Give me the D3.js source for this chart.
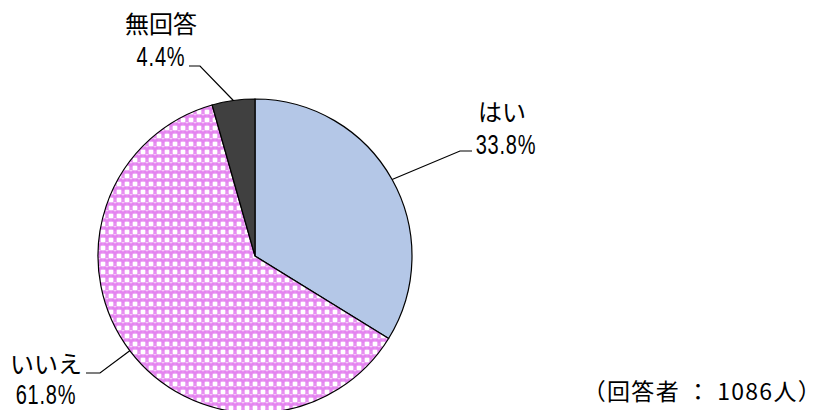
<!DOCTYPE html>
<html>
<head>
<meta charset="utf-8">
<script src="https://cdn.jsdelivr.net/npm/d3@7"></script>
<style>
  body { margin: 0; background: #fff; }
  text { font-family: "Noto Sans CJK JP", "Noto Sans", sans-serif; fill: #000; }
  text.num { font-family: "Liberation Sans", Arial, sans-serif; }
</style>
</head>
<body>
<div id="chart"></div>
<script>
var categories = ["はい", "いいえ", "無回答"];
var values = [33.8, 61.8, 4.4];
var respondents = 1086;

var width = 835, height = 410,
  cx = 255, cy = 256, radius = 157;

// label layout: elbow point, end of horizontal, text centre / baselines
var labelPos = {
  "はい":   { elbow: [460, 151], end: [472, 151], tx: 502, ty: 121, vx: 506, vy: 154 },
  "いいえ": { elbow: [100, 373], end: [86, 373],  tx: 46,  ty: 373, vx: 46,  vy: 404 },
  "無回答": { elbow: [200, 66],  end: [189, 66],  tx: 161, ty: 33,  vx: 161, vy: 66 }
};

var svg = d3.select("#chart").append("svg")
  .attr("width", width)
  .attr("height", height);

// ball pattern: pink balls, white squares where four balls meet
var defs = svg.append("defs");
var pat = defs.append("pattern")
  .attr("id", "balls")
  .attr("patternUnits", "userSpaceOnUse")
  .attr("width", 8).attr("height", 8);
pat.append("rect").attr("width", 8).attr("height", 8).attr("fill", "#e892f2");
pat.append("circle").attr("cx", 4).attr("cy", 4).attr("r", 3.3).attr("fill", "#e484f0");
[[0, 0], [5.7, 0], [0, 5.7], [5.7, 5.7]].forEach(function(p) {
  pat.append("rect").attr("x", p[0]).attr("y", p[1]).attr("width", 2.3).attr("height", 2.3).attr("fill", "#fff");
});
pat.append("ellipse").attr("cx", 4).attr("cy", 2.6).attr("rx", 1.6).attr("ry", 0.8).attr("fill", "#f6cdf9");

var fills = { "はい": "#b4c7e7", "いいえ": "url(#balls)", "無回答": "#404040" };

var pie = d3.pie().sort(null).value(function(d) { return d.value; });
var data = categories.map(function(c, i) { return { name: c, value: values[i] }; });
var arcs = pie(data);

var arc = d3.arc().innerRadius(0).outerRadius(radius);

var g = svg.append("g").attr("transform", "translate(" + cx + "," + cy + ")");

g.selectAll("path.slice")
  .data(arcs)
  .enter().append("path")
  .attr("class", "slice")
  .attr("d", arc)
  .attr("fill", function(d) { return fills[d.data.name]; })
  .attr("stroke", "#000")
  .attr("stroke-width", 1.2);

// leader lines + labels
arcs.forEach(function(d) {
  var a = (d.startAngle + d.endAngle) / 2;
  var px = cx + radius * Math.sin(a), py = cy - radius * Math.cos(a);
  var lp = labelPos[d.data.name];
  svg.append("polyline")
    .attr("points", [[px, py], lp.elbow, lp.end].map(function(p) { return p.join(","); }).join(" "))
    .attr("fill", "none")
    .attr("stroke", "#000")
    .attr("stroke-width", 1.2);

  svg.append("text")
    .attr("x", lp.tx).attr("y", lp.ty)
    .attr("text-anchor", "middle")
    .attr("font-size", 24)
    .text(d.data.name);
  // condensed tall digits
  svg.append("g")
    .attr("transform", "translate(" + lp.vx + "," + lp.vy + ") scale(0.8,1.12)")
    .append("text")
    .attr("class", "num")
    .attr("text-anchor", "middle")
    .attr("font-size", 25)
    .attr("letter-spacing", 1)
    .text(d3.format(".1f")(d.data.value) + "%");
});

svg.append("text")
  .attr("x", 822).attr("y", 400)
  .attr("text-anchor", "end")
  .attr("font-size", 23)
  .attr("letter-spacing", 1.3)
  .text("（回答者 ： " + respondents + "人）");
</script>
</body>
</html>
